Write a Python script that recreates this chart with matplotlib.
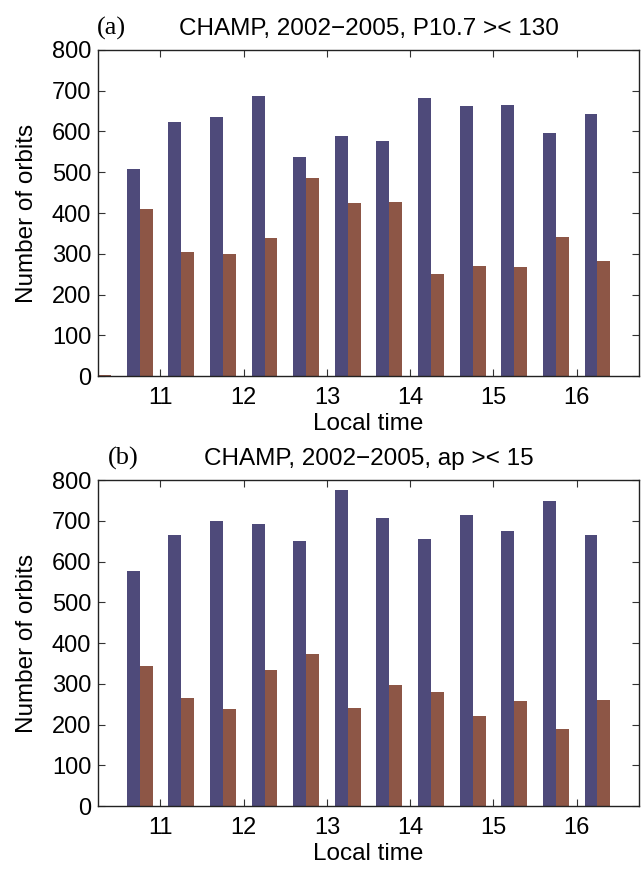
import numpy as np
import matplotlib.pyplot as plt

plt.rcParams['font.family'] = ['Liberation Sans', 'DejaVu Sans']

# local time bins (hour), half-hour steps
local_time = [10.25, 10.75, 11.25, 11.75, 12.25, 12.75, 13.25,
              13.75, 14.25, 14.75, 15.25, 15.75, 16.25]

# (a) P10.7 split
a_high = [0, 508, 623, 636, 686, 538, 590, 577, 683, 663, 665, 597, 643]
a_low = [3, 410, 304, 300, 338, 487, 424, 427, 250, 270, 267, 341, 282]

# (b) ap split
b_high = [0, 577, 665, 699, 692, 650, 775, 707, 655, 714, 675, 748, 665]
b_low = [1, 343, 264, 237, 333, 373, 240, 296, 279, 220, 257, 188, 260]

xticks = [11, 12, 13, 14, 15, 16]
yticks = [0, 100, 200, 300, 400, 500, 600, 700, 800]

blue = "#4e4a7a"
red = "#8d5646"

fig = plt.figure(figsize=(6.41, 8.71), dpi=100)

panels = [
    ([0.153, 0.5683, 0.844, 0.3743], a_high, a_low,
     "CHAMP, 2002\u22122005, P10.7 >< 130", "(a)", -0.003),
    ([0.153, 0.0746, 0.844, 0.3743], b_high, b_low,
     "CHAMP, 2002\u22122005, ap >< 15", "(b)", 0.018),
]

w = 0.155
for rect, high, low, title, tag, tagx in panels:
    ax = fig.add_axes(rect)
    x = np.array(local_time)
    ax.bar(x - w / 2, high, width=w, color=blue, linewidth=0)
    ax.bar(x + w / 2, low, width=w, color=red, linewidth=0)
    ax.set_xlim(10.25, 16.75)
    ax.set_ylim(0, 800)
    ax.set_xticks(xticks)
    ax.set_yticks(yticks)
    ax.tick_params(direction="in", top=True, right=True, length=5,
                   width=0.8, color="#333333", labelsize=17)
    ax.tick_params(axis="x", pad=8)
    ax.tick_params(axis="y", pad=5)
    for s in ax.spines.values():
        s.set_linewidth(1.0)
        s.set_color("#222222")
    ax.set_xlabel("Local time", fontsize=17.5, labelpad=3)
    ax.set_ylabel("Number of orbits", fontsize=17.5, labelpad=10)
    ax.set_title(title, fontsize=17.5, pad=11)
    ax.text(tagx, 1.03, tag, transform=ax.transAxes, fontsize=19,
            family="Liberation Serif", ha="left", va="bottom")

fig.savefig("out.png", dpi=100)
